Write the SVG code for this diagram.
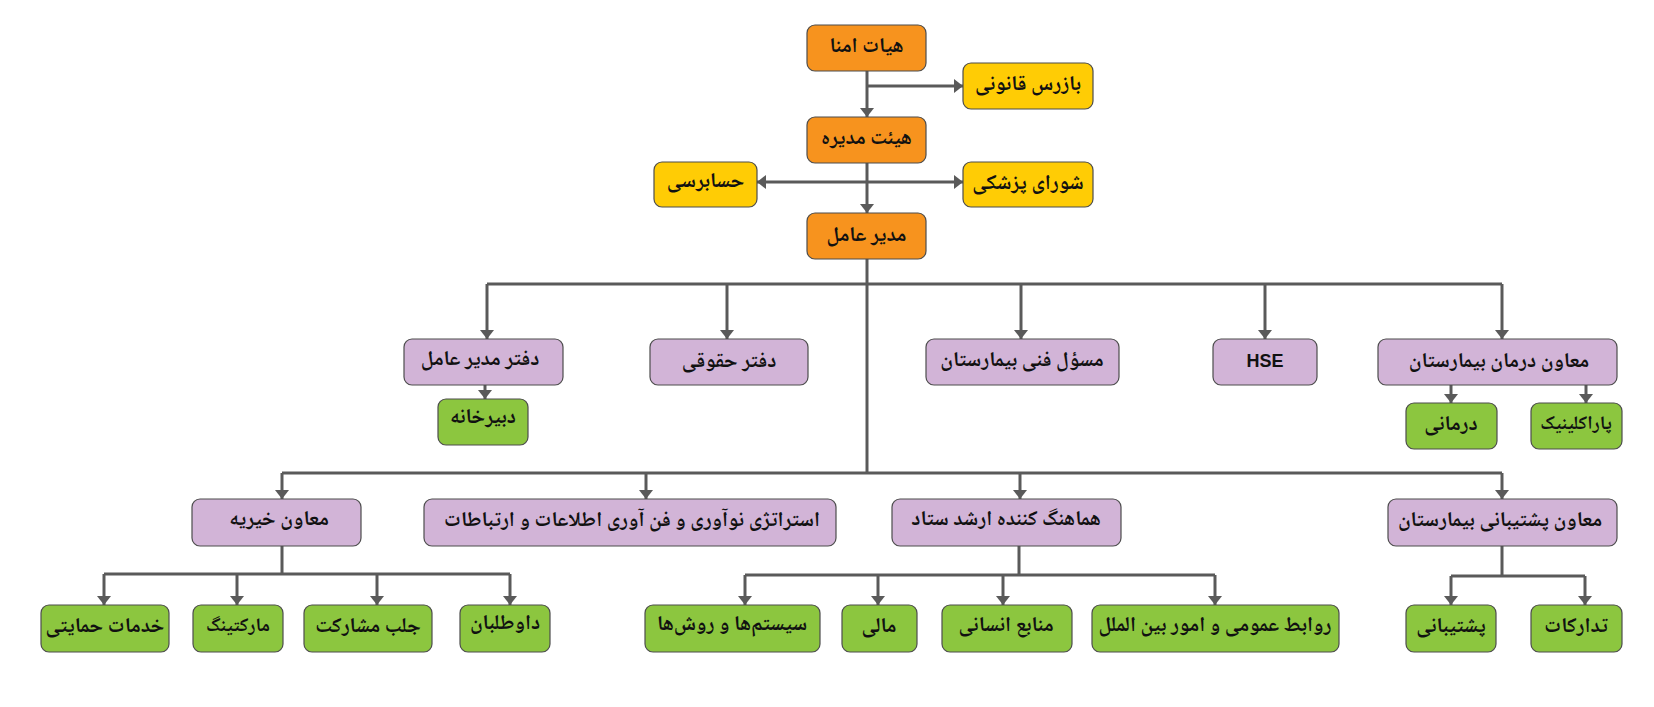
<svg xmlns="http://www.w3.org/2000/svg" width="1654" height="707" viewBox="0 0 1654 707">
<style>
.box{stroke:#4d4d4d;stroke-width:1.2}
.o{fill:#f7931e}.y{fill:#ffcc05}.p{fill:#d2b4d7}.g{fill:#8cc63f}
.t{font-family:"Noto Naskh Arabic","Noto Sans Arabic","DejaVu Sans","Noto Sans",sans-serif;font-weight:bold;font-size:21px;fill:#111;text-anchor:middle;dominant-baseline:central}
.en{font-family:"Liberation Sans",Arial,sans-serif;font-weight:bold;font-size:18px;fill:#111;text-anchor:middle;dominant-baseline:central}
.c{stroke:#5a5a5a;stroke-width:3;fill:none}
</style>
<defs>
<marker id="ah" viewBox="0 0 9 14" refX="9" refY="7" markerWidth="9" markerHeight="14" markerUnits="userSpaceOnUse" orient="auto">
<path d="M0,0 L9,7 L0,14 z" fill="#5a5a5a"/>
</marker>
</defs>
<rect width="1654" height="707" fill="#ffffff"/>
<g id="connectors">
<path class="c" d="M867,71 V117" marker-end="url(#ah)"/>
<path class="c" d="M867,86 H963" marker-end="url(#ah)"/>
<path class="c" d="M867,163 V213" marker-end="url(#ah)"/>
<path class="c" d="M867,182 H757" marker-end="url(#ah)"/>
<path class="c" d="M867,182 H963" marker-end="url(#ah)"/>
<path class="c" d="M867,259 V473"/>
<path class="c" d="M487,284 H1502"/>
<path class="c" d="M487,284 V339" marker-end="url(#ah)"/>
<path class="c" d="M727,284 V339" marker-end="url(#ah)"/>
<path class="c" d="M1021,284 V339" marker-end="url(#ah)"/>
<path class="c" d="M1265,284 V339" marker-end="url(#ah)"/>
<path class="c" d="M1502,284 V339" marker-end="url(#ah)"/>
<path class="c" d="M485,385 V399" marker-end="url(#ah)"/>
<path class="c" d="M1451,385 V403" marker-end="url(#ah)"/>
<path class="c" d="M1586,385 V403" marker-end="url(#ah)"/>
<path class="c" d="M282,473 H1502"/>
<path class="c" d="M282,473 V499" marker-end="url(#ah)"/>
<path class="c" d="M646,473 V499" marker-end="url(#ah)"/>
<path class="c" d="M1020,473 V499" marker-end="url(#ah)"/>
<path class="c" d="M1502,473 V499" marker-end="url(#ah)"/>
<path class="c" d="M282,546 V574 M104,574 H510"/>
<path class="c" d="M104,574 V605" marker-end="url(#ah)"/>
<path class="c" d="M237,574 V605" marker-end="url(#ah)"/>
<path class="c" d="M377,574 V605" marker-end="url(#ah)"/>
<path class="c" d="M510,574 V605" marker-end="url(#ah)"/>
<path class="c" d="M1019,546 V575 M745,575 H1215"/>
<path class="c" d="M745,575 V605" marker-end="url(#ah)"/>
<path class="c" d="M878,575 V605" marker-end="url(#ah)"/>
<path class="c" d="M1003,575 V605" marker-end="url(#ah)"/>
<path class="c" d="M1215,575 V605" marker-end="url(#ah)"/>
<path class="c" d="M1502,546 V576 M1451,576 H1585"/>
<path class="c" d="M1451,576 V605" marker-end="url(#ah)"/>
<path class="c" d="M1585,576 V605" marker-end="url(#ah)"/>
</g>
<g id="n-hayat-omana"><rect class="box o" x="807" y="25" width="119" height="46" rx="8"/><text class="t" x="866.5" y="47" direction="rtl">هیات امنا</text></g>
<g id="n-bazras"><rect class="box y" x="963" y="63" width="130" height="46" rx="8"/><text class="t" x="1028" y="85" direction="rtl">بازرس قانونی</text></g>
<g id="n-hayat-modire"><rect class="box o" x="807" y="117" width="119" height="46" rx="8"/><text class="t" x="866.5" y="139" direction="rtl">هیئت مدیره</text></g>
<g id="n-hesabresi"><rect class="box y" x="654" y="162" width="103" height="45" rx="8"/><text class="t" x="705.5" y="182" direction="rtl">حسابرسی</text></g>
<g id="n-shora"><rect class="box y" x="963" y="162" width="130" height="45" rx="8"/><text class="t" x="1028" y="184" direction="rtl">شورای پزشکی</text></g>
<g id="n-modir-amel"><rect class="box o" x="807" y="213" width="119" height="46" rx="8"/><text class="t" x="866.5" y="236" direction="rtl">مدیر عامل</text></g>
<g id="n-daftar-modir"><rect class="box p" x="404" y="339" width="159" height="46" rx="8"/><text class="t" x="480" y="360" direction="rtl">دفتر مدیر عامل</text></g>
<g id="n-dabirkhane"><rect class="box g" x="438" y="399" width="90" height="46" rx="8"/><text class="t" x="483" y="418" direction="rtl">دبیرخانه</text></g>
<g id="n-hoghoghi"><rect class="box p" x="650" y="339" width="158" height="46" rx="8"/><text class="t" x="729" y="362" direction="rtl">دفتر حقوقی</text></g>
<g id="n-masool"><rect class="box p" x="926" y="339" width="193" height="46" rx="8"/><text class="t" x="1022" y="361" direction="rtl">مسؤل فنی بیمارستان</text></g>
<g id="n-hse"><rect class="box p" x="1213" y="339" width="104" height="46" rx="8"/><text class="en" x="1265" y="361">HSE</text></g>
<g id="n-moaven-darman"><rect class="box p" x="1378" y="339" width="239" height="46" rx="8"/><text class="t" x="1499" y="362" direction="rtl">معاون درمان بیمارستان</text></g>
<g id="n-darmani"><rect class="box g" x="1406" y="403" width="91" height="46" rx="8"/><text class="t" x="1451" y="425" direction="rtl">درمانی</text></g>
<g id="n-paraclinic"><rect class="box g" x="1531" y="403" width="91" height="46" rx="8"/><text class="t" x="1576" y="425" direction="rtl" style="font-size:19px">پاراکلینیک</text></g>
<g id="n-kheyrie"><rect class="box p" x="192" y="499" width="169" height="47" rx="8"/><text class="t" x="279" y="520" direction="rtl">معاون خیریه</text></g>
<g id="n-strategy"><rect class="box p" x="424" y="499" width="412" height="47" rx="8"/><text class="t" x="632" y="521" direction="rtl">استراتژی نوآوری و فن آوری اطلاعات و ارتباطات</text></g>
<g id="n-hamahang"><rect class="box p" x="892" y="499" width="229" height="47" rx="8"/><text class="t" x="1006" y="520" direction="rtl">هماهنگ کننده ارشد ستاد</text></g>
<g id="n-moaven-poshtibani"><rect class="box p" x="1388" y="499" width="229" height="47" rx="8"/><text class="t" x="1500" y="521" direction="rtl">معاون پشتیبانی بیمارستان</text></g>
<g id="n-khadamat"><rect class="box g" x="41" y="605" width="128" height="47" rx="8"/><text class="t" x="105" y="627" direction="rtl">خدمات حمایتی</text></g>
<g id="n-marketing"><rect class="box g" x="193" y="605" width="90" height="47" rx="8"/><text class="t" x="238" y="627" direction="rtl" style="font-size:19px">مارکتینگ</text></g>
<g id="n-jalb"><rect class="box g" x="304" y="605" width="128" height="47" rx="8"/><text class="t" x="368" y="627" direction="rtl">جلب مشارکت</text></g>
<g id="n-davtalaban"><rect class="box g" x="460" y="605" width="90" height="47" rx="8"/><text class="t" x="505" y="624" direction="rtl">داوطلبان</text></g>
<g id="n-systems"><rect class="box g" x="645" y="605" width="175" height="47" rx="8"/><text class="t" x="732" y="625" direction="rtl">سیستم‌ها و روش‌ها</text></g>
<g id="n-mali"><rect class="box g" x="842" y="605" width="75" height="47" rx="8"/><text class="t" x="879" y="627" direction="rtl">مالی</text></g>
<g id="n-manabe"><rect class="box g" x="942" y="605" width="130" height="47" rx="8"/><text class="t" x="1006" y="626" direction="rtl">منابع انسانی</text></g>
<g id="n-ravabet"><rect class="box g" x="1092" y="605" width="247" height="47" rx="8"/><text class="t" x="1215" y="626" direction="rtl">روابط عمومی و امور بین الملل</text></g>
<g id="n-poshtibani"><rect class="box g" x="1406" y="605" width="90" height="47" rx="8"/><text class="t" x="1451" y="627" direction="rtl">پشتیبانی</text></g>
<g id="n-tadarokat"><rect class="box g" x="1531" y="605" width="91" height="47" rx="8"/><text class="t" x="1576" y="627" direction="rtl">تدارکات</text></g>
</svg>
